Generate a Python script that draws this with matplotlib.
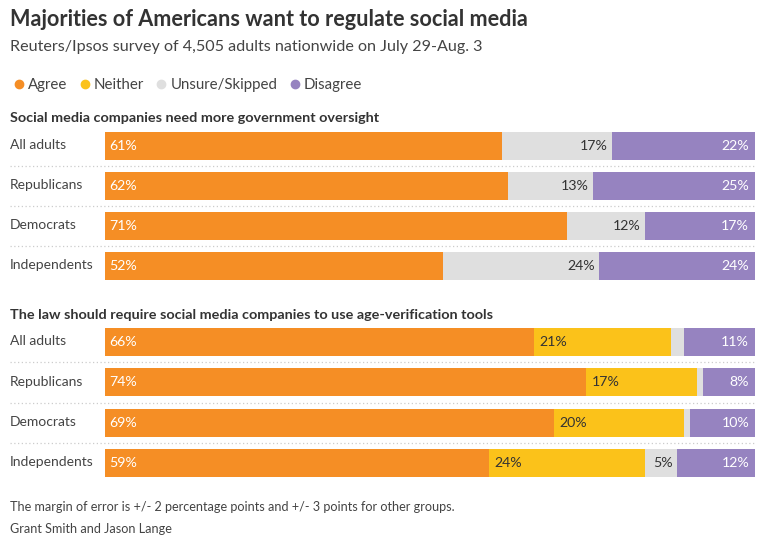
import matplotlib.pyplot as plt
from matplotlib.lines import Line2D

plt.rcParams['font.family'] = ['Lato', 'DejaVu Sans']

# Data
groups = ['All adults', 'Republicans', 'Democrats', 'Independents']
series = ['Agree', 'Neither', 'Unsure/Skipped', 'Disagree']
colors = ['#F58E25', '#FBC21A', '#DFDFDF', '#9683C0']

oversight = {
    'Agree': [61, 62, 71, 52],
    'Neither': [0, 0, 0, 0],
    'Unsure/Skipped': [17, 13, 12, 24],
    'Disagree': [22, 25, 17, 24],
}
age_check = {
    'Agree': [66, 74, 69, 59],
    'Neither': [21, 17, 20, 24],
    'Unsure/Skipped': [2, 1, 1, 5],
    'Disagree': [11, 8, 10, 12],
}

W, H = 775, 547
fig = plt.figure(figsize=(W / 100, H / 100), dpi=100)


def px_axes(x0, y0, x1, y1):
    return fig.add_axes([x0 / W, 1 - y1 / H, (x1 - x0) / W, (y1 - y0) / H])


def draw_section(ax, data):
    n = len(groups)
    ax.set_xlim(0, 100)
    ax.set_ylim(n - 0.5, -0.5)
    ax.axis('off')
    for i, g in enumerate(groups):
        left = 0
        for s, c in zip(series, colors):
            v = data[s][i]
            if v > 0:
                ax.barh(i, v, left=left, height=0.7, color=c)
                if v >= 4:
                    if s == 'Agree':
                        ax.text(left + 0.7, i, f'{v}%', color='white', va='center', ha='left', fontsize=10.2)
                    elif s == 'Neither':
                        ax.text(left + 0.9, i, f'{v}%', color='#333333', va='center', ha='left', fontsize=10.2)
                    elif s == 'Unsure/Skipped':
                        ax.text(left + v - 0.6, i, f'{v}%', color='#333333', va='center', ha='right', fontsize=10.2)
                    else:
                        ax.text(left + v - 0.9, i, f'{v}%', color='white', va='center', ha='right', fontsize=10.2)
            left += v
        ax.text(-14.6, i - 0.02, g, color='#444444', va='center', ha='left', fontsize=10)
        if i < n - 1:
            ax.axhline(i + 0.5, xmin=-0.146, xmax=1, color='#cccccc', lw=0.9,
                       ls=(0, (1, 2)), clip_on=False)


ax1 = px_axes(105, 126, 755, 286)
draw_section(ax1, oversight)
ax2 = px_axes(105, 322, 755, 483)
draw_section(ax2, age_check)

fig.text(10 / W, 1 - 118 / H, 'Social media companies need more government oversight',
         color='#333333', fontsize=10.4, fontweight='bold', va='center', ha='left')
fig.text(10 / W, 1 - 315 / H, 'The law should require social media companies to use age-verification tools',
         color='#333333', fontsize=10.4, fontweight='bold', va='center', ha='left')

fig.text(10 / W, 1 - 19 / H, 'Majorities of Americans want to regulate social media',
         fontsize=15.6, fontweight='bold', color='#333333', va='center', ha='left')
fig.text(10 / W, 1 - 47 / H, 'Reuters/Ipsos survey of 4,505 adults nationwide on July 29-Aug. 3',
         fontsize=11.6, color='#444444', va='center', ha='left')

handles = [Line2D([], [], marker='o', ls='', color=c, markersize=6) for c in colors]
leg = fig.legend(handles, series, loc='center left', bbox_to_anchor=(2 / W, 1 - 85 / H),
                 ncol=4, frameon=False, handlelength=0.5, handletextpad=0.35,
                 columnspacing=0.9, fontsize=10.8)
for t in leg.get_texts():
    t.set_color('#444444')

fig.text(10 / W, 1 - 507 / H,
         'The margin of error is +/- 2 percentage points and +/- 3 points for other groups.',
         fontsize=9.1, color='#444444', va='center', ha='left')
fig.text(10 / W, 1 - 529 / H, 'Grant Smith and Jason Lange',
         fontsize=9.1, color='#444444', va='center', ha='left')

fig.savefig('out.png', dpi=100)
